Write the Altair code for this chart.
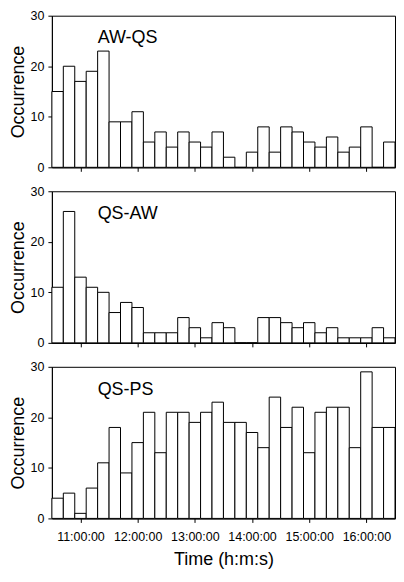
import altair as alt
import pandas as pd

# 12-minute bins from 10:30 to 16:30
bin_edges = ["10:30", "10:42", "10:54", "11:06", "11:18", "11:30", "11:42", "11:54",
             "12:06", "12:18", "12:30", "12:42", "12:54", "13:06", "13:18", "13:30",
             "13:42", "13:54", "14:06", "14:18", "14:30", "14:42", "14:54", "15:06",
             "15:18", "15:30", "15:42", "15:54", "16:06", "16:18", "16:30"]

aw_qs = [15, 20, 17, 19, 23, 9, 9, 11, 5, 7, 4, 7, 5, 4, 7, 2, 0, 3, 8, 3, 8, 7, 5, 4, 6, 3, 4, 8, 0, 5]
qs_aw = [11, 26, 13, 11, 10, 6, 8, 7, 2, 2, 2, 5, 3, 1, 4, 3, 0, 0, 5, 5, 4, 3, 4, 2, 3, 1, 1, 1, 3, 1]
qs_ps = [4, 5, 1, 6, 11, 18, 9, 15, 21, 13, 21, 21, 19, 21, 23, 19, 19, 17, 14, 24, 18, 22, 13, 21, 22, 22, 14, 29, 18, 18]

panel_names = ["AW-QS", "QS-AW", "QS-PS"]
panel_counts = [aw_qs, qs_aw, qs_ps]

tick_hours = [11, 12, 13, 14, 15, 16]
y_ticks = [0, 10, 20, 30]

FONT = "Liberation Sans"
DAY = "2000-01-01T"


def make_df(counts):
    return pd.DataFrame({
        "start": [DAY + s + ":00" for s in bin_edges[:-1]],
        "end": [DAY + s + ":00" for s in bin_edges[1:]],
        "count": counts,
    })


x_domain = [alt.DateTime(year=2000, month=1, date=1, hours=10, minutes=30),
            alt.DateTime(year=2000, month=1, date=1, hours=16, minutes=30)]
x_values = [alt.DateTime(year=2000, month=1, date=1, hours=h) for h in tick_hours]


def panel(name, counts, bottom):
    df = make_df(counts)
    x_axis = alt.Axis(
        values=x_values, format="%H:%M:%S", labels=bottom,
        title="Time (h:m:s)" if bottom else None,
        tickSize=4, labelPadding=8, titlePadding=8,
        grid=False,
    )
    bars = alt.Chart(df).mark_rect(
        fill="white", stroke="black", strokeWidth=1
    ).encode(
        x=alt.X("start:T", scale=alt.Scale(domain=x_domain, nice=False), axis=x_axis),
        x2="end:T",
        y=alt.Y("count:Q", scale=alt.Scale(domain=[0, 30], nice=False),
                axis=alt.Axis(values=y_ticks, title="Occurrence", tickSize=4,
                              labelPadding=4, titlePadding=3, grid=False)),
        y2=alt.datum(0),
    )
    label = alt.Chart(pd.DataFrame({"name": [name]})).mark_text(
        align="left", baseline="alphabetic", font=FONT, fontSize=18, color="black"
    ).encode(
        x=alt.datum(alt.DateTime(year=2000, month=1, date=1, hours=11, minutes=18)),
        y=alt.datum(24.5),
        text="name:N",
    )
    return alt.layer(bars, label).properties(width=344, height=152)


charts = [panel(n, c, i == 2) for i, (n, c) in enumerate(zip(panel_names, panel_counts))]

chart = alt.vconcat(*charts, spacing=24, bounds="flush").properties(
    padding={"left": 0, "top": 0, "right": 0, "bottom": 0}
).configure_view(
    stroke="black", strokeWidth=1
).configure_axis(
    domainColor="black", tickColor="black", labelColor="black", titleColor="black",
    labelFont=FONT, titleFont=FONT, labelFontSize=12.5, titleFontSize=18,
    titleFontWeight="normal", domainWidth=1, tickWidth=1
)

chart.save("out.html", embed_options={"renderer": "svg", "actions": False})
